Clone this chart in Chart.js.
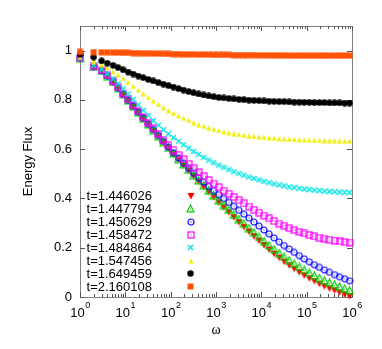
<!DOCTYPE html>
<html><head><meta charset="utf-8">
<script src="https://cdn.jsdelivr.net/npm/chart.js@4/dist/chart.umd.min.js"></script>
<style>html,body{margin:0;padding:0;background:#fff}canvas{display:block}</style>
</head><body>
<canvas id="c" width="382" height="349"></canvas>
<script>
// ---- data ----
const omega = [1,2,3,4,5.37,6.93,8.95,11.56,14.93,19.28,24.89,32.14,41.5,53.58,69.18,89.33,115.3,148.9,192.3,248.3,320.6,414,534.6,690.2,891.3,1151,1486,1919,2477,3199,4130,5333,6887,8892,11482,14825,19143,24717,31915,41210,53211,68707,88716,114551,147911,190985,246604,318420,411150,530884,685488,885116];
const seriesLabels = ['t=1.446026','t=1.447794','t=1.450629','t=1.458472','t=1.484864','t=1.547456','t=1.649459','t=2.160108'];
const fluxA = [0.970,0.934,0.918,0.897,0.873,0.848,0.823,0.798,0.773,0.748,0.724,0.700,0.676,0.652,0.628,0.604,0.581,0.558,0.535,0.513,0.491,0.469,0.447,0.426,0.405,0.384,0.364,0.344,0.324,0.304,0.285,0.266,0.247,0.229,0.211,0.193,0.176,0.160,0.144,0.129,0.115,0.101,0.088,0.076,0.065,0.054,0.044,0.035,0.027,0.019,0.011,0.004];
const fluxB = [0.970,0.935,0.918,0.897,0.873,0.848,0.823,0.798,0.774,0.749,0.725,0.701,0.677,0.653,0.629,0.606,0.583,0.560,0.538,0.516,0.494,0.473,0.452,0.432,0.412,0.392,0.373,0.354,0.335,0.316,0.298,0.280,0.262,0.244,0.227,0.210,0.194,0.178,0.163,0.149,0.135,0.122,0.110,0.098,0.087,0.077,0.067,0.058,0.050,0.042,0.034,0.027];
const fluxC = [0.970,0.935,0.919,0.898,0.874,0.849,0.824,0.799,0.775,0.751,0.727,0.703,0.680,0.656,0.632,0.609,0.586,0.564,0.543,0.522,0.502,0.484,0.466,0.449,0.432,0.416,0.400,0.384,0.368,0.352,0.336,0.320,0.304,0.288,0.272,0.256,0.240,0.224,0.209,0.195,0.181,0.168,0.155,0.143,0.131,0.120,0.110,0.100,0.091,0.082,0.074,0.066];
const fluxD = [0.970,0.936,0.920,0.900,0.876,0.851,0.826,0.802,0.778,0.754,0.731,0.708,0.685,0.662,0.639,0.617,0.597,0.577,0.559,0.541,0.523,0.506,0.490,0.475,0.460,0.446,0.432,0.419,0.406,0.393,0.380,0.367,0.354,0.342,0.330,0.319,0.308,0.298,0.289,0.280,0.272,0.265,0.258,0.252,0.246,0.241,0.237,0.233,0.229,0.226,0.223,0.221];
const fluxE = [0.970,0.940,0.924,0.906,0.886,0.866,0.845,0.824,0.802,0.780,0.758,0.737,0.716,0.697,0.679,0.662,0.647,0.632,0.618,0.604,0.591,0.579,0.567,0.556,0.545,0.535,0.526,0.517,0.509,0.501,0.494,0.487,0.481,0.475,0.469,0.464,0.459,0.455,0.451,0.447,0.444,0.441,0.438,0.436,0.434,0.432,0.430,0.428,0.427,0.426,0.425,0.424];
const fluxF = [0.975,0.955,0.943,0.930,0.915,0.901,0.887,0.872,0.856,0.840,0.825,0.810,0.796,0.782,0.769,0.757,0.746,0.736,0.726,0.717,0.708,0.700,0.693,0.687,0.681,0.676,0.671,0.667,0.663,0.660,0.657,0.654,0.652,0.650,0.648,0.646,0.645,0.643,0.642,0.641,0.640,0.639,0.638,0.637,0.636,0.636,0.635,0.635,0.634,0.634,0.633,0.633];
const fluxG = [0.985,0.974,0.958,0.949,0.940,0.931,0.922,0.913,0.905,0.897,0.890,0.883,0.877,0.870,0.864,0.858,0.852,0.846,0.840,0.834,0.829,0.824,0.820,0.816,0.813,0.810,0.808,0.806,0.804,0.802,0.801,0.799,0.798,0.797,0.796,0.795,0.794,0.793,0.793,0.792,0.791,0.791,0.790,0.790,0.789,0.789,0.789,0.788,0.788,0.788,0.787,0.787];
const fluxH = [0.995,0.994,0.993,0.993,0.992,0.992,0.991,0.991,0.990,0.990,0.989,0.989,0.988,0.988,0.987,0.987,0.986,0.986,0.985,0.985,0.985,0.984,0.984,0.984,0.983,0.983,0.983,0.983,0.982,0.982,0.982,0.982,0.982,0.981,0.981,0.981,0.981,0.981,0.981,0.980,0.980,0.980,0.980,0.980,0.980,0.980,0.980,0.980,0.980,0.980,0.980,0.980];
const allFlux = [fluxA,fluxB,fluxC,fluxD,fluxE,fluxF,fluxG,fluxH];
const xMajorTicks = [1,10,100,1000,10000,100000,1000000];
const xTickExponents = ['0','1','2','3','4','5','6'];
const yTicks = [0,0.2,0.4,0.6,0.8,1];
const yTickLabels = ['0','0.2','0.4','0.6','0.8','1'];

// ---- markers ----
function marker(kind, color, s) {
  const c = document.createElement('canvas');
  c.width = s; c.height = s;
  const g = c.getContext('2d');
  const m = s / 2;
  g.strokeStyle = color; g.fillStyle = color; g.lineWidth = 1.2;
  g.beginPath();
  if (kind === 'triDown') {
    g.moveTo(0.5, 1); g.lineTo(s - 0.5, 1); g.lineTo(m, s - 0.5); g.closePath(); g.fill();
  } else if (kind === 'triUpOpen') {
    g.moveTo(m, 1); g.lineTo(s - 1, s - 1.2); g.lineTo(1, s - 1.2); g.closePath(); g.stroke();
    g.fillRect(m - 0.5, m + 0.2, 1, 1);
  } else if (kind === 'circleOpen') {
    g.arc(m, m, m - 1, 0, Math.PI * 2); g.stroke();
    g.fillRect(m - 0.5, m - 0.5, 1, 1);
  } else if (kind === 'squareOpen') {
    g.strokeRect(1, 1, s - 2, s - 2);
    g.fillRect(m - 0.5, m - 0.5, 1, 1);
  } else if (kind === 'cross') {
    g.lineWidth = 1.4;
    g.moveTo(1, 1); g.lineTo(s - 1, s - 1); g.moveTo(s - 1, 1); g.lineTo(1, s - 1); g.stroke();
  } else if (kind === 'triUp') {
    g.moveTo(m, 0.5); g.lineTo(s - 0.5, s - 0.5); g.lineTo(0.5, s - 0.5); g.closePath(); g.fill();
  } else if (kind === 'dot') {
    g.arc(m, m, m - 0.3, 0, Math.PI * 2); g.fill();
  } else if (kind === 'square') {
    g.fillRect(0.5, 0.5, s - 1, s - 1);
  }
  return c;
}
const styles = [
  marker('triDown', '#ff0000', 8),
  marker('triUpOpen', '#00d000', 9),
  marker('circleOpen', '#0000ff', 8),
  marker('squareOpen', '#ff00ff', 8),
  marker('cross', '#00e5e5', 7),
  marker('triUp', '#f0f000', 6),
  marker('dot', '#000000', 7),
  marker('square', '#ff4f00', 7)
];

const datasets = allFlux.map((vals, i) => ({
  label: seriesLabels[i],
  data: omega.map((w, j) => ({x: w, y: vals[j]})),
  showLine: false,
  pointStyle: styles[i],
  pointRadius: 4,
  pointHoverRadius: 4,
  clip: false,
  order: 8 - i
}));

const FONT = "'Liberation Sans', Arial, sans-serif";

const decor = {
  id: 'decor',
  beforeDatasetsDraw(chart) {
    const ctx = chart.ctx, a = chart.chartArea;
    const xs = chart.scales.x, ys = chart.scales.y;
    ctx.save();
    ctx.strokeStyle = '#808080';
    ctx.lineWidth = 1;
    ctx.strokeRect(Math.round(a.left) + 0.5, Math.round(a.top) + 0.5, Math.round(a.right - a.left), Math.round(a.bottom - a.top));
    ctx.strokeStyle = '#555';
    ctx.beginPath();
    // x ticks (major + minor), bottom and top, inward
    for (let k = 0; k < xMajorTicks.length; k++) {
      const base = xMajorTicks[k];
      const px = Math.round(xs.getPixelForValue(base)) + 0.5;
      ctx.moveTo(px, a.bottom); ctx.lineTo(px, a.bottom - 5);
      ctx.moveTo(px, a.top); ctx.lineTo(px, a.top + 5);
      if (k < xMajorTicks.length - 1) {
        for (let m = 2; m <= 9; m++) {
          const p = Math.round(xs.getPixelForValue(base * m)) + 0.5;
          ctx.moveTo(p, a.bottom); ctx.lineTo(p, a.bottom - 3);
          ctx.moveTo(p, a.top); ctx.lineTo(p, a.top + 3);
        }
      }
    }
    for (const v of yTicks) {
      const py = Math.round(ys.getPixelForValue(v)) + 0.5;
      ctx.moveTo(a.left, py); ctx.lineTo(a.left + 5, py);
      ctx.moveTo(a.right, py); ctx.lineTo(a.right - 5, py);
    }
    ctx.stroke();
    ctx.restore();
  },
  afterDraw(chart) {
    const ctx = chart.ctx, a = chart.chartArea;
    const xs = chart.scales.x;
    ctx.save();
    ctx.fillStyle = '#000';
    // x tick labels 10^k
    ctx.textBaseline = 'alphabetic';
    ctx.textAlign = 'left';
    for (let k = 0; k < xMajorTicks.length; k++) {
      const px = xs.getPixelForValue(xMajorTicks[k]);
      ctx.font = '13px ' + FONT;
      const w1 = ctx.measureText('10').width;
      ctx.font = '9px ' + FONT;
      const w2 = ctx.measureText(xTickExponents[k]).width;
      const x0 = px - (w1 + w2) / 2;
      ctx.font = '13px ' + FONT;
      ctx.fillText('10', x0, 317);
      ctx.font = '9px ' + FONT;
      ctx.fillText(xTickExponents[k], x0 + w1 + 0.5, 308);
    }
    // axis titles
    ctx.font = "14px 'Liberation Serif', 'DejaVu Serif', serif";
    ctx.textAlign = 'center';
    ctx.textBaseline = 'middle';
    ctx.fillText('\u03c9', (a.left + a.right) / 2 + 0, 330);
    ctx.font = '13px ' + FONT;
    ctx.translate(28, (a.top + a.bottom) / 2);
    ctx.rotate(-Math.PI / 2);
    ctx.fillText('Energy Flux', 0, 0);
    ctx.restore();
    // legend
    ctx.save();
    ctx.font = '13px ' + FONT;
    ctx.fillStyle = '#000';
    ctx.textAlign = 'right';
    ctx.textBaseline = 'middle';
    chart.data.datasets.forEach((ds, i) => {
      const y = 196 + i * 12.95;
      ctx.fillText(ds.label, 152, y + 0.5);
      const img = ds.pointStyle;
      ctx.drawImage(img, Math.round(190.5 - img.width / 2), Math.round(y - img.height / 2));
    });
    ctx.restore();
  }
};

new Chart(document.getElementById('c'), {
  type: 'scatter',
  data: { datasets },
  options: {
    responsive: false,
    animation: false,
    devicePixelRatio: 1,
    layout: { padding: { top: 26, right: 30, left: 0, bottom: 0 } },
    plugins: { legend: { display: false }, tooltip: { enabled: false } },
    scales: {
      x: {
        type: 'logarithmic', min: 1, max: 1000000,
        grid: { display: false, drawTicks: false }, border: { display: false },
        ticks: { display: false },
        afterFit: s => { s.height = 52; }
      },
      y: {
        type: 'linear', min: 0, max: 1.1,
        grid: { display: false, drawTicks: false }, border: { display: false },
        ticks: {
          stepSize: 0.2, padding: 8, color: '#000',
          font: { size: 13, family: FONT },
          callback: v => { const i = yTicks.findIndex(t => Math.abs(t - v) < 1e-6); return i >= 0 ? yTickLabels[i] : ''; }
        },
        afterFit: s => { s.width = 80; }
      }
    }
  },
  plugins: [decor]
});
</script>
</body></html>
